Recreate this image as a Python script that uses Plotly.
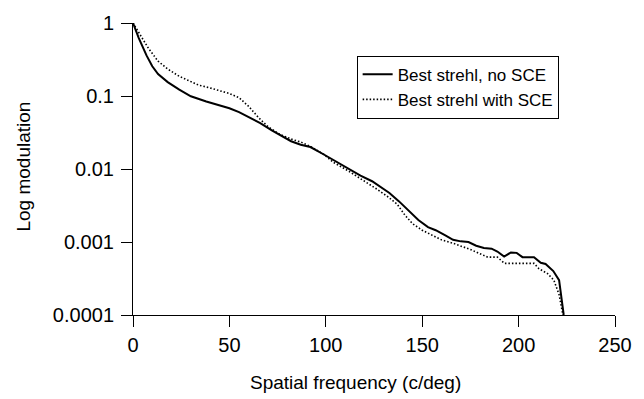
import plotly.graph_objects as go

# Spatial frequency (c/deg) and modulation values
freq_no_sce = [0, 3, 7, 10, 13, 18, 24, 30, 38, 45, 50, 55, 60, 66, 72, 77, 82, 87, 92, 99,
               105, 111, 118, 124, 128, 133, 138, 143, 148, 153, 157, 162, 166, 170, 174, 178,
               182, 186, 189, 192.5, 196, 199, 202, 208, 211.5, 214, 218, 221, 223.4]
mod_no_sce = [1, 0.62, 0.36, 0.255, 0.2, 0.155, 0.122, 0.099, 0.084, 0.0745, 0.068, 0.06,
              0.0517, 0.0425, 0.0339, 0.0282, 0.024, 0.0215, 0.02, 0.0158, 0.0129, 0.0105,
              0.0081, 0.0068, 0.0058, 0.0047, 0.0036, 0.0027, 0.002, 0.0016, 0.00145, 0.00123,
              0.00107, 0.00102, 0.001, 0.00089, 0.00083, 0.00081, 0.00074, 0.00063, 0.00072,
              0.00071, 0.00062, 0.00062, 0.00052, 0.0005, 0.0004, 0.0003, 0.0001]

freq_sce = [0, 3.6, 8, 13, 18, 24, 29, 34, 40, 46, 50, 55, 60, 65, 70, 76, 82, 87, 92, 99,
            104, 112, 120, 126, 132, 137, 141, 145, 150, 155, 160, 165, 170, 175, 180, 184,
            189, 192.7, 200, 208, 210.6, 215, 218.3, 221, 223]
mod_sce = [1, 0.71, 0.45, 0.30, 0.234, 0.186, 0.162, 0.141, 0.129, 0.117, 0.108, 0.095, 0.072,
           0.051, 0.038, 0.030, 0.0257, 0.0234, 0.0204, 0.0158, 0.0123, 0.0093, 0.0069, 0.0054,
           0.0042, 0.0033, 0.00234, 0.00178, 0.00145, 0.00123, 0.00107, 0.00098, 0.00089,
           0.00079, 0.00069, 0.00062, 0.00062, 0.00051, 0.00051, 0.00051, 0.00043, 0.00037,
           0.0003, 0.00019, 0.0001]

y_tick_vals = [1, 0.1, 0.01, 0.001, 0.0001]
y_tick_text = ["1", "0.1", "0.01", "0.001", "0.0001"]
x_tick_vals = [0, 50, 100, 150, 200, 250]
x_title = "Spatial frequency (c/deg)"
y_title = "Log modulation"

FONT = "Liberation Sans, Arial, Helvetica, sans-serif"

fig = go.Figure()
fig.add_trace(go.Scatter(x=freq_no_sce, y=mod_no_sce, mode="lines",
                         name="Best strehl, no SCE",
                         line=dict(color="black", width=2)))
fig.add_trace(go.Scatter(x=freq_sce, y=mod_sce, mode="lines",
                         name="Best strehl with SCE",
                         line=dict(color="black", width=1.6, dash="1.5px,2px")))

fig.add_annotation(text=x_title, xref="paper", yref="paper", x=0.462, y=-0.231,
                   xanchor="center", yanchor="middle", showarrow=False,
                   font=dict(family=FONT, size=19, color="black"))
fig.add_annotation(text=y_title, xref="paper", yref="paper", x=-0.227, y=0.507,
                   xanchor="center", yanchor="middle", showarrow=False, textangle=-90,
                   font=dict(family=FONT, size=19, color="black"))

fig.update_layout(
    width=644, height=399,
    margin=dict(l=133, r=22, t=21, b=84),
    paper_bgcolor="white", plot_bgcolor="white",
    font=dict(family=FONT, size=18, color="black"),
    showlegend=True,
    legend=dict(x=0.464, y=0.888, xanchor="left", yanchor="top",
                bgcolor="white", bordercolor="black", borderwidth=1,
                font=dict(size=17), itemwidth=30, tracegroupgap=0),
    xaxis=dict(range=[0, 250], tickvals=x_tick_vals, ticks="outside", ticklen=11,
               tickcolor="black", showline=True, linecolor="black", linewidth=1,
               showgrid=False, zeroline=False, ticklabelstandoff=1,
               tickfont=dict(size=20)),
    yaxis=dict(type="log", range=[-4, 0], tickvals=y_tick_vals, ticktext=y_tick_text,
               ticks="outside", ticklen=11, tickcolor="black", showline=True,
               linecolor="black", linewidth=1, showgrid=False, zeroline=False,
               ticklabelstandoff=3, tickfont=dict(size=20)),
)

fig.write_html("out.html")
